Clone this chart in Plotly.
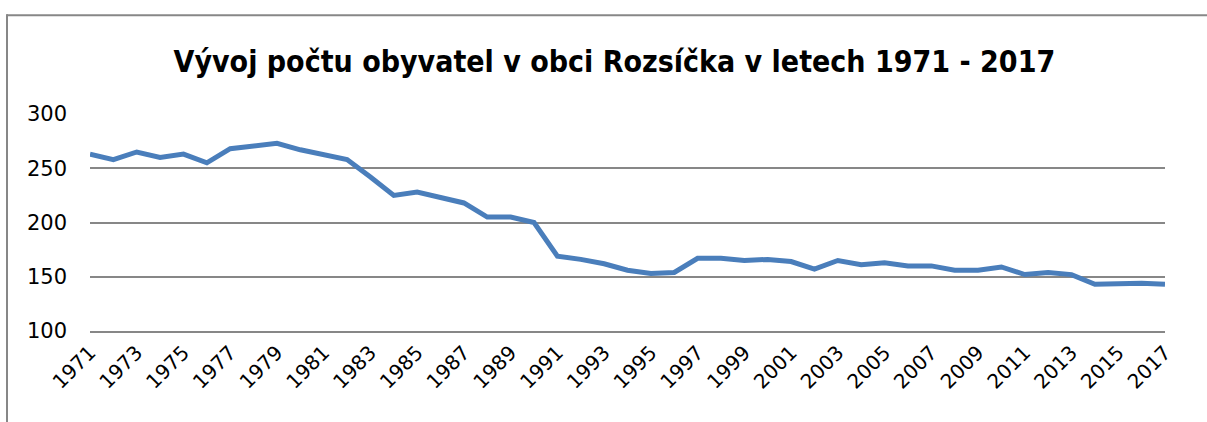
import plotly.graph_objects as go

years = list(range(1971, 2018))
population = [263, 258, 265, 260, 263, 255, 268, 270, 273, 267,
              262, 258, 242, 225, 228, 223, 218, 205, 205, 200,
              169, 166, 162, 156, 153, 154, 167, 167, 165, 166,
              164, 157, 165, 161, 163, 160, 160, 156, 156, 159,
              152, 154, 152, 143, 144, 144, 143]
tick_years = list(range(1971, 2018, 2))
tick_labels = [str(y) for y in tick_years]
y_ticks = [100, 150, 200, 250, 300]
title_text = "Vývoj počtu obyvatel v obci Rozsíčka v letech 1971 - 2017"

W, H = 1207, 422
L, R, T, B = 90, 42, 114, 90.5
pw, ph = W - L - R, H - T - B

fig = go.Figure()
fig.add_trace(go.Scatter(
    x=years, y=population, mode="lines",
    line=dict(color="#4A7EBB", width=5),
    hoverinfo="x+y", showlegend=False,
))

def px_to_paper_x(px):
    return (px - L) / pw

def py_to_paper_y(py):
    return (H - B - py) / ph

# outer chart frame (top and left edges visible)
fig.add_shape(type="line", xref="paper", yref="paper",
              x0=px_to_paper_x(6.5), x1=px_to_paper_x(1210),
              y0=py_to_paper_y(15), y1=py_to_paper_y(15),
              line=dict(color="#878787", width=2))
fig.add_shape(type="line", xref="paper", yref="paper",
              x0=px_to_paper_x(7), x1=px_to_paper_x(7),
              y0=py_to_paper_y(14), y1=py_to_paper_y(430),
              line=dict(color="#878787", width=2))

fig.update_layout(
    width=W, height=H,
    margin=dict(l=L, r=R, t=T, b=B, autoexpand=False),
    paper_bgcolor="white", plot_bgcolor="white",
    title=dict(text="<b>" + title_text + "</b>",
               x=0.509, xref="container", xanchor="center",
               y=1 - 61 / H, yref="container", yanchor="middle",
               font=dict(family="DejaVu Sans Condensed, DejaVu Sans, sans-serif",
                         size=30, color="black")),
    xaxis=dict(range=[1971, 2017], tickvals=tick_years, ticktext=tick_labels,
               tickangle=-45, showgrid=False, zeroline=False,
               showline=True, linecolor="#878787", linewidth=1.7,
               ticks="", tickfont=dict(family="DejaVu Sans", size=20, color="black"),
               fixedrange=True),
    yaxis=dict(range=[100, 300], tickvals=y_ticks, showgrid=True,
               gridcolor="#878787", gridwidth=1.7, zeroline=False, showline=False,
               ticks="", ticklabelstandoff=22,
               tickfont=dict(family="DejaVu Sans", size=21, color="black"),
               fixedrange=True),
)

fig.write_html("out.html",
               config={"displayModeBar": False},
               post_script="document.body.style.margin='0';document.body.style.overflow='hidden';")
